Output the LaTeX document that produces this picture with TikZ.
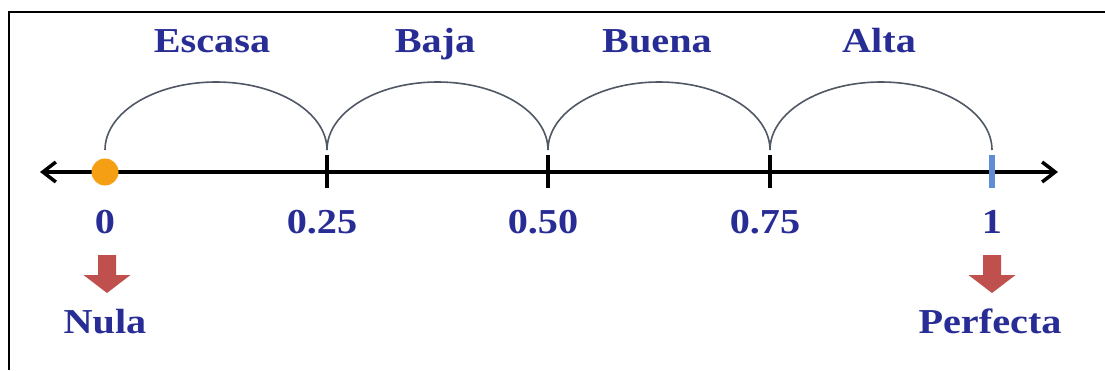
\documentclass[tikz,border=0pt]{standalone}
\usepackage{fontspec}
\setmainfont{Liberation Serif}
\usetikzlibrary{arrows.meta}
\definecolor{lblue}{RGB}{40,45,150}
\definecolor{arcgray}{RGB}{80,88,100}
\definecolor{redarr}{RGB}{192,80,77}
\definecolor{dotorange}{RGB}{245,160,20}
\definecolor{tickblue}{RGB}{95,140,215}
\tikzset{
  lbl/.style={text=lblue,font=\fontsize{35}{40}\selectfont\bfseries,inner sep=0pt,anchor=base},
  tickmark/.style={line width=3.5pt,black},
  arcline/.style={arcgray,line width=1.6pt},
  redfill/.style={fill=redarr},
  axisline/.style={line width=3.2pt,
    {Straight Barb[length=13pt,width=20pt,line width=3.5pt]}-{Straight Barb[length=13pt,width=20pt,line width=3.5pt]}},
}
\newcommand{\wide}[1]{\scalebox{1.15}[1]{#1}}
\newcommand{\downarr}[1]{%
  \fill[redfill] ([shift={(-9pt,19pt)}]#1) -- ([shift={(9pt,19pt)}]#1) -- ([shift={(9pt,-1pt)}]#1)
   -- ([shift={(23.5pt,-1pt)}]#1) -- ([shift={(0pt,-19pt)}]#1) -- ([shift={(-23.5pt,-1pt)}]#1)
   -- ([shift={(-9pt,-1pt)}]#1) -- cycle;}
\begin{document}
\begin{tikzpicture}[x=1pt,y=1pt]
\useasboundingbox (0,0) rectangle (1105,370);
\fill[white] (0,0) rectangle (1105,370);
% frame
\draw[line width=2.5pt,black] (9,0) -- (9,358) -- (1105,358);
% positions
\foreach \n/\x in {p0/105,p1/327,p2/548,p3/770,p4/992}{
  \coordinate (\n) at (\x,198);
  \coordinate (\n t) at (\x,220);
}
\coordinate (L) at (40,198);
\coordinate (R) at (1058,198);
% arcs
\draw[arcline] (p0t) arc[start angle=180,end angle=0,x radius=111pt,y radius=68pt];
\draw[arcline] (p1t) arc[start angle=180,end angle=0,x radius=110.5pt,y radius=68pt];
\draw[arcline] (p2t) arc[start angle=180,end angle=0,x radius=111pt,y radius=68pt];
\draw[arcline] (p3t) arc[start angle=180,end angle=0,x radius=111pt,y radius=68pt];
% axis
\draw[axisline] (L) -- (R);
% ticks
\foreach \n in {p1,p2,p3}{
  \draw[tickmark] ([yshift=17pt]\n) -- ([yshift=-16pt]\n);
}
\draw[tickblue,line width=6pt] ([yshift=17pt]p4) -- ([yshift=-16pt]p4);
\fill[dotorange] (p0) circle (13.5pt);
% top labels
\node[lbl] (escasa) at (212,317) {\wide{Escasa}};
\node[lbl] (baja) at (435,317) {\wide{Baja}};
\node[lbl] (buena) at (657,317) {\wide{Buena}};
\node[lbl] (alta) at (879,317) {\wide{Alta}};
% numbers
\node[lbl] (n0) at (105,137) {\wide{0}};
\node[lbl] (n1) at (322,137) {\wide{0.25}};
\node[lbl] (n2) at (543,137) {\wide{0.50}};
\node[lbl] (n3) at (765,137) {\wide{0.75}};
\node[lbl] (n4) at (992,137) {\wide{1}};
% red arrows
\coordinate (a0) at (107,96);
\coordinate (a4) at (992,96);
\downarr{a0}
\downarr{a4}
% bottom labels
\node[lbl] (nula) at (105,37) {\wide{Nula}};
\node[lbl] (perf) at (990,37) {\wide{Perfecta}};
\end{tikzpicture}
\end{document}
